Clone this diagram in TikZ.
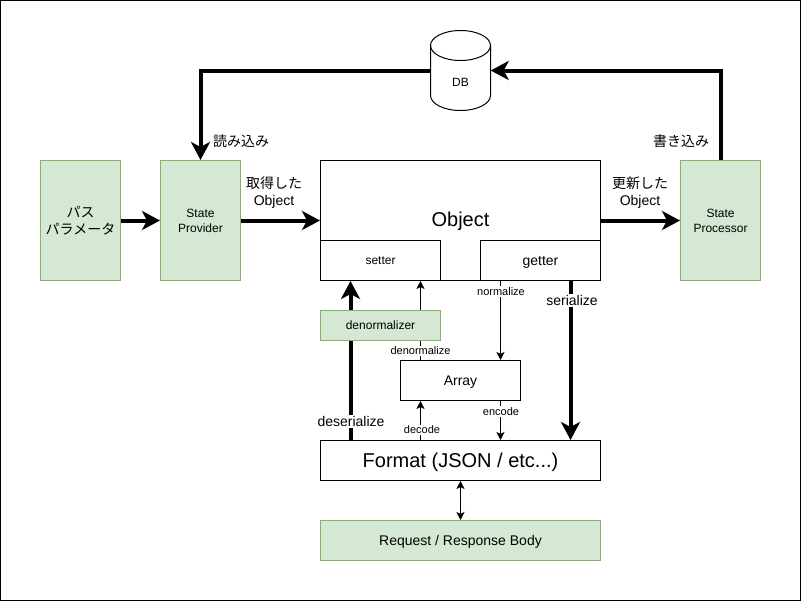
\documentclass[tikz,border=0pt]{standalone}
\usepackage{fontspec}
\setmainfont{Liberation Sans}
\newfontfamily\jpfont{Noto Sans CJK JP}
\usetikzlibrary{arrows.meta,calc}
\pgfdeclarelayer{bg}
\pgfsetlayers{bg,main}
\definecolor{greenfill}{HTML}{D5E8D4}
\definecolor{greenline}{HTML}{82B366}
\newcommand{\fsz}[1]{\fontsize{#1}{#1}\selectfont}
\tikzset{
  boxbase/.style={draw=black,line width=1pt,fill=white,inner sep=0pt,align=center,font=\fontsize{12}{15}\selectfont},
  greenbox/.style={boxbase,draw=greenline,fill=greenfill},
  heavy/.style={line width=4pt,-{Stealth[length=18pt,width=19pt,inset=5pt]}},
  light/.style={line width=1pt,-{Stealth[length=8pt,width=8pt,inset=2pt]}},
  lightboth/.style={line width=1pt,{Stealth[length=8pt,width=8pt,inset=2pt]}-{Stealth[length=8pt,width=8pt,inset=2pt]}},
  biglabel/.style={fill=white,inner sep=1pt,align=center,font=\fontsize{14}{17}\selectfont},
  smalllabel/.style={fill=white,inner sep=1pt,align=center,font=\fontsize{11}{13}\selectfont},
  plainlabel/.style={inner sep=0pt,align=center,font=\fontsize{14}{17}\selectfont},
  sized/.style 2 args={minimum width=#1pt,minimum height=#2pt}
}
\begin{document}
\begin{tikzpicture}[x=1pt,y=-1pt]
\useasboundingbox (0,0) rectangle (802,602);

\node[greenbox,sized={80}{120},font=\fontsize{14}{17}\selectfont] (path) at (80.5,220.5) {\jpfont パス\\\jpfont パラメータ};
\node[greenbox,sized={80}{120}] (provider) at (200.5,220.5) {State\\Provider};
\node[boxbase,sized={280}{120},font=\fsz{20}] (object) at (460.5,220.5) {};
\node[boxbase,sized={120}{40}] (setter) at (380.5,260.5) {};
\node[boxbase,sized={120}{40}] (getter) at (540.5,260.5) {};
\node[greenbox,sized={80}{120}] (processor) at (720.5,220.5) {State\\Processor};
\node[greenbox,sized={120}{30}] (denorm) at (380.5,325.5) {};
\node[boxbase,sized={120}{40}] (array) at (460.5,380.5) {};
\node[boxbase,sized={280}{40}] (format) at (460.5,460.5) {};
\node[greenbox,sized={280}{40}] (body) at (460.5,540.5) {};

\node[inner sep=0pt,minimum width=60pt,minimum height=80pt,font=\fsz{12}] (db) at (460.5,70.5) {};
\draw[line width=1pt,fill=white] (430.5,45.5) arc[start angle=180,end angle=0,x radius=30,y radius=-15]
  -- (490.5,95.5) arc[start angle=0,end angle=-180,x radius=30,y radius=-15] -- cycle;
\draw[line width=1pt] (430.5,45.5) arc[start angle=180,end angle=360,x radius=30,y radius=-15];

\node[inner sep=0pt,font=\fsz{20}] (tobject) at (460.5,221) {Object};
\node[inner sep=0pt,font=\fsz{12}] (tsetter) at (380.5,260.5) {setter};
\node[inner sep=0pt,font=\fsz{14}] (tgetter) at (540.5,262) {getter};
\node[inner sep=0pt,font=\fsz{12}] (tdenorm) at (380.5,325) {denormalizer};
\node[inner sep=0pt,font=\fsz{14}] (tarray) at (460.5,382) {Array};
\node[inner sep=0pt,font=\fsz{20}] (tformat) at (460.5,462) {Format (JSON / etc...)};
\node[inner sep=0pt,font=\fsz{14}] (tbody) at (460.5,541.5) {Request / Response Body};
\node[inner sep=0pt,font=\fsz{12}] (dbtext) at (460.5,82.5) {DB};

\begin{pgfonlayer}{bg}
\draw[line width=1pt,fill=white] (0.5,0.5) rectangle (800.5,600.5);
\draw[heavy] (path) -- (provider);
\draw[heavy] (provider.east) -- (object.west);
\draw[heavy] (object.east) -- (processor.west);
\draw[heavy] (db.west) -| (provider.north);
\draw[heavy] (processor.north) |- (db.east);
\draw[heavy] ([xshift=-110pt]format.north) -- ([xshift=-30pt]setter.south);
\draw[heavy] ([xshift=30pt]getter.south) -- ([xshift=110pt]format.north);
\draw[light] ([xshift=-40pt]array.north) -- ([xshift=40pt]setter.south);
\draw[light] ([xshift=-40pt]getter.south) -- ([xshift=40pt]array.north);
\draw[light] ([xshift=-40pt]format.north) -- ([xshift=-40pt]array.south);
\draw[light] ([xshift=40pt]array.south) -- ([xshift=40pt]format.north);
\draw[lightboth] (format.south) -- (body.north);
\end{pgfonlayer}

\node[plainlabel] (lread) at (241,141) {\jpfont 読み込み};
\node[plainlabel] (lwrite) at (681,141) {\jpfont 書き込み};
\node[plainlabel] (lgot) at (274,192.5) {{\jpfont 取得した}\\Object};
\node[plainlabel] (lupd) at (640,192.5) {{\jpfont 更新した}\\Object};
\node[smalllabel] (lnorm) at (501,291.5) {normalize};
\node[biglabel] (lser) at (572,300.5) {serialize};
\node[smalllabel] (ldenorm) at (420.5,351) {denormalize};
\node[biglabel] (ldes) at (351,421.5) {deserialize};
\node[smalllabel] (ldec) at (422,430) {decode};
\node[smalllabel] (lenc) at (501,411.5) {encode};
\end{tikzpicture}
\end{document}
